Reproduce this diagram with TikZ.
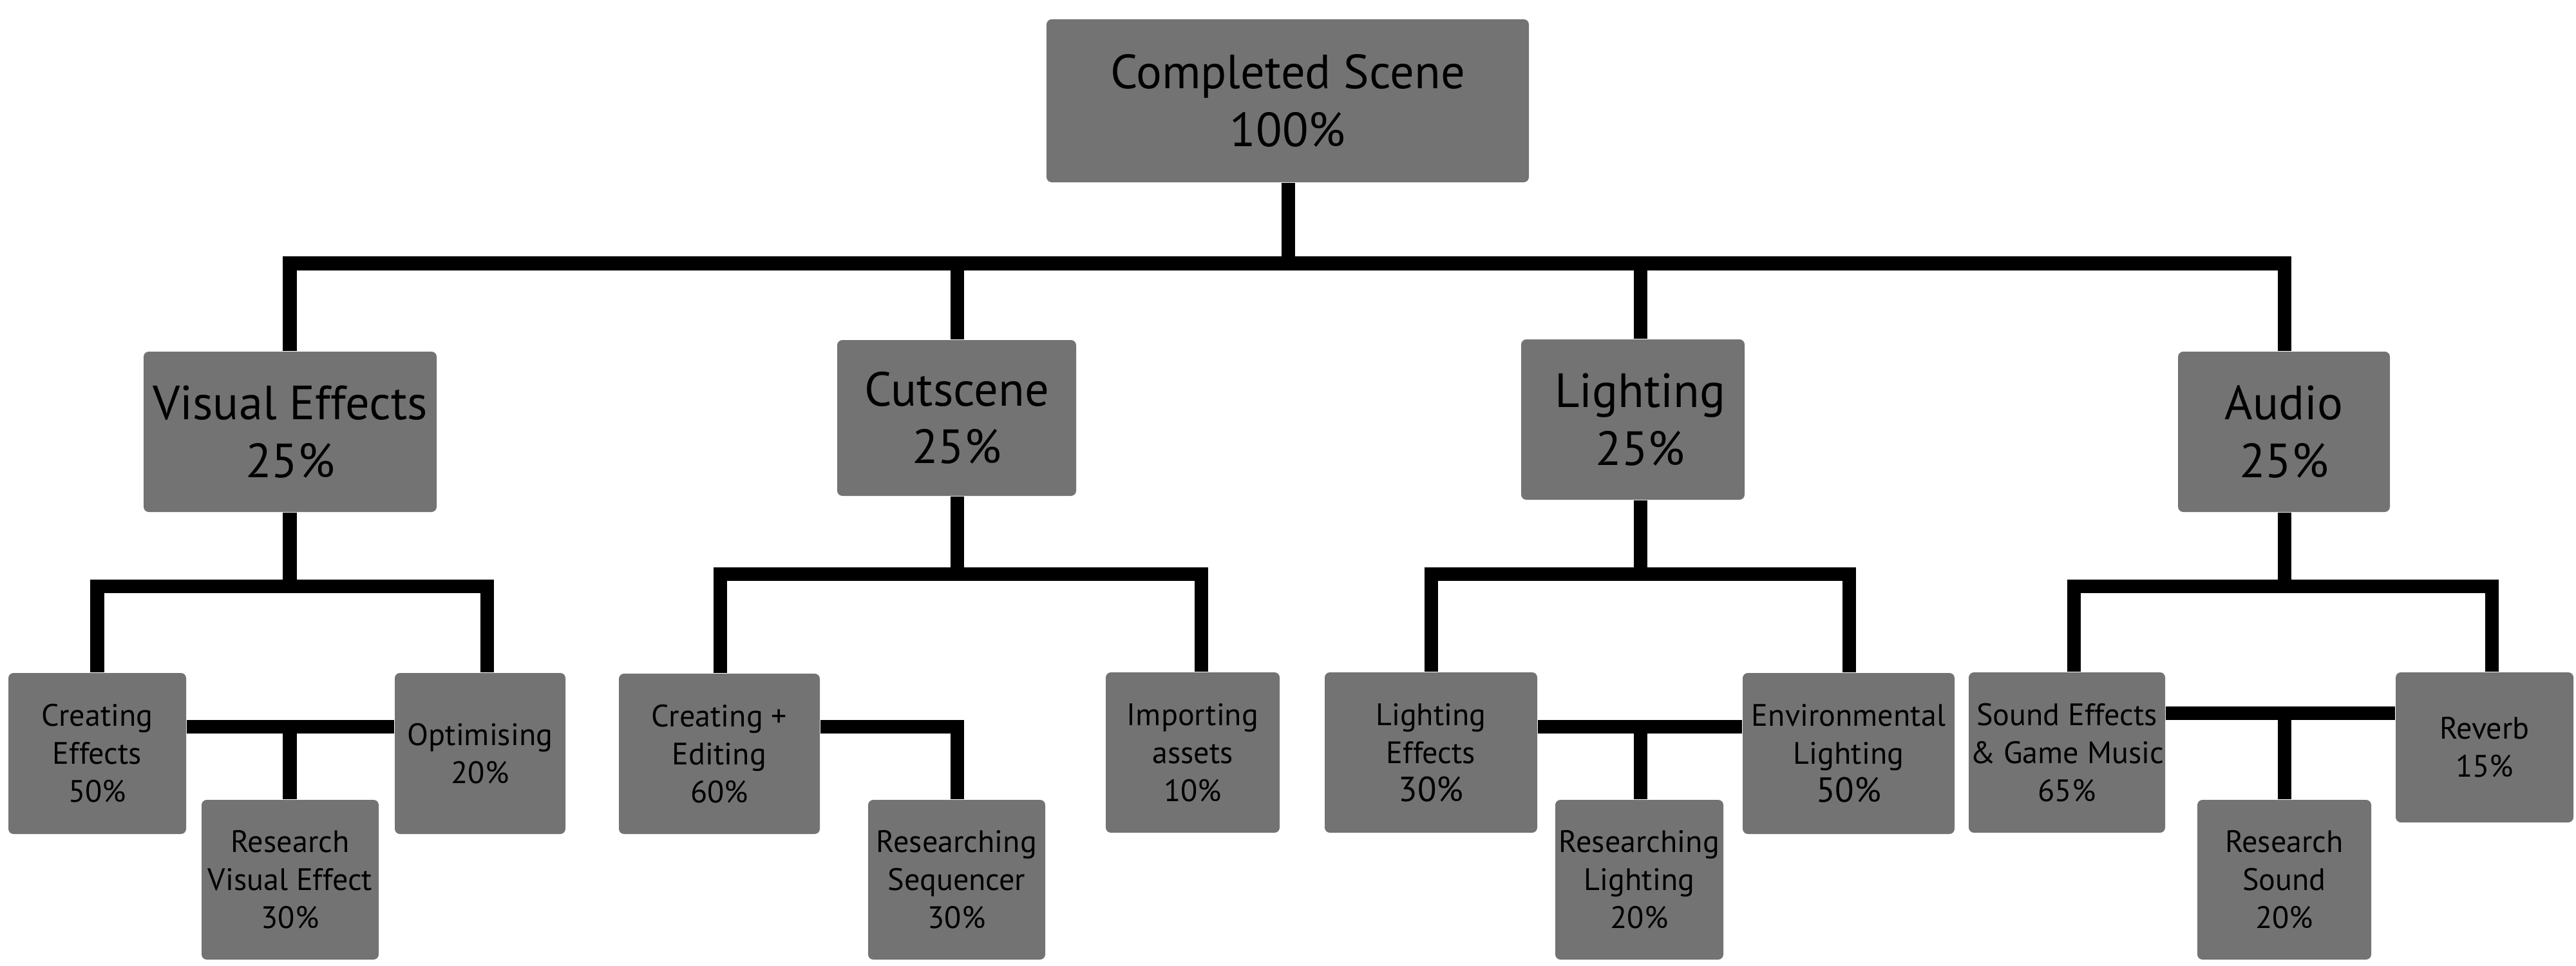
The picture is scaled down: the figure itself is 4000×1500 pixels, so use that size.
\documentclass[tikz,border=0pt]{standalone}
\usepackage{fontspec}
\setmainfont{PT Sans}
\definecolor{boxgray}{RGB}{115,115,115}
\begin{document}
\begin{tikzpicture}[x=0.01cm,y=-0.01cm,
  box/.style={fill=boxgray, rounded corners=0.08cm, inner sep=0pt, align=center, text=black},
  boxsize/.style 2 args={minimum width=#1*0.01cm, minimum height=#2*0.01cm},
  big/.style={box, font=\fontsize{21.2}{25.5}\selectfont},
  small/.style={box, font=\fontsize{13.7}{16.8}\selectfont},
  conn/.style={line width=0.21cm, line join=miter, line cap=butt, black}]
\useasboundingbox (0,0) rectangle (4000,1500);
% top levels
\node[big, boxsize={749}{253}] (root) at (1999.5,156.5) {Completed Scene\\100\%};
\node[big, boxsize={455}{249}] (ve) at (450.5,670.5) {Visual Effects\\25\%};
\node[big, boxsize={371}{242}] (cs) at (1485.5,649) {Cutscene\\25\%};
\node[big, boxsize={347}{249}] (li) at (2535.5,651.5) {\hspace*{0.23cm}Lighting\\\hspace*{0.23cm}25\%};
\node[big, boxsize={329}{249}] (au) at (3546.5,670.5) {Audio\\25\%};
% bottom level
\node[small, boxsize={276}{250}] (ce) at (151,1170) {Creating\\Effects\\50\%};
\node[small, boxsize={265}{250}] (op) at (745.5,1170) {Optimising\\20\%};
\node[small, boxsize={275}{248}] (rve) at (450.5,1366) {Research\\Visual Effect\\30\%};
\node[small, boxsize={312}{249}] (cr) at (1117,1170.5) {Creating +\\Editing\\60\%};
\node[small, boxsize={270}{249}] (im) at (1852,1168.5) {Importing\\assets\\10\%};
\node[small, boxsize={275}{248}] (rsq) at (1485.5,1366) {Researching\\Sequencer\\30\%};
\node[small, boxsize={330}{249}] (le) at (2222,1168.5) {Lighting\\Effects\\{\fontsize{15.4}{16.8}\selectfont 30\%}};
\node[small, boxsize={329}{250}] (el) at (2870.5,1170) {Environmental\\Lighting\\{\fontsize{15.4}{16.8}\selectfont 50\%}};
\node[small, boxsize={261}{248}] (rl) at (2545.5,1366) {Researching\\Lighting\\20\%};
\node[small, boxsize={305}{249}] (sf) at (3209.5,1168.5) {Sound Effects\\\& Game Music\\65\%};
\node[small, boxsize={276}{233}] (rv) at (3858,1160.5) {Reverb\\15\%};
\node[small, boxsize={270}{248}] (rs) at (3547,1366) {Research\\Sound\\20\%};
% junction coordinates
\coordinate (mb) at (2000,409);
\coordinate (xve) at (450,409);
\coordinate (xcs) at (1486,409);
\coordinate (xli) at (2547,409);
\coordinate (xau) at (3547,409);
\coordinate (veL) at (151,910);  \coordinate (veR) at (756,910);
\coordinate (csL) at (1118,891); \coordinate (csR) at (1865,891);
\coordinate (liL) at (2222,891); \coordinate (liR) at (2871,891);
\coordinate (auL) at (3220,910); \coordinate (auR) at (3869,910);
\coordinate (vem) at (450,1128);
\coordinate (csm) at (1486,1128);
\coordinate (lim) at (2547,1128);
\coordinate (aum) at (3547,1107);
% main bar
\draw[conn] (root.south -| mb) -- (mb);
\draw[conn] (xve |- ve.north) -- (xve) -- (xau) -- (xau |- au.north);
\draw[conn] (xcs) -- (xcs |- cs.north);
\draw[conn] (xli) -- (xli |- li.north);
% visual effects
\draw[conn] (xve |- ve.south) -- (xve |- veL);
\draw[conn] (veL |- ce.north) -- (veL) -- (veR) -- (veR |- op.north);
\draw[conn] (ce.east |- vem) -- (op.west |- vem);
\draw[conn] (vem) -- (vem |- rve.north);
% cutscene
\draw[conn] (xcs |- cs.south) -- (xcs |- csL);
\draw[conn] (csL |- cr.north) -- (csL) -- (csR) -- (csR |- im.north);
\draw[conn] (cr.east |- csm) -- (csm) -- (csm |- rsq.north);
% lighting
\draw[conn] (xli |- li.south) -- (xli |- liL);
\draw[conn] (liL |- le.north) -- (liL) -- (liR) -- (liR |- el.north);
\draw[conn] (le.east |- lim) -- (el.west |- lim);
\draw[conn] (lim) -- (lim |- rl.north);
% audio
\draw[conn] (xau |- au.south) -- (xau |- auL);
\draw[conn] (auL |- sf.north) -- (auL) -- (auR) -- (auR |- rv.north);
\draw[conn] (sf.east |- aum) -- (rv.west |- aum);
\draw[conn] (aum) -- (aum |- rs.north);
\end{tikzpicture}
\end{document}
